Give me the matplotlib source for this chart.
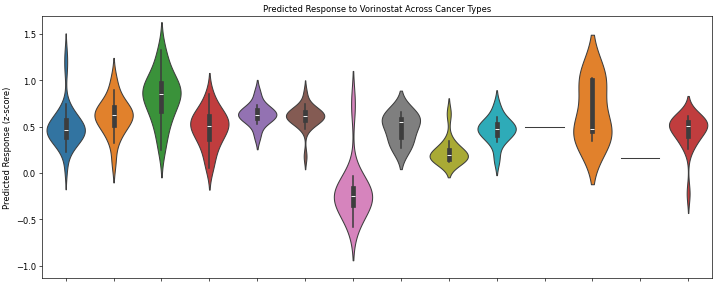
import numpy as np
import pandas as pd
import matplotlib
matplotlib.use("Agg")
import matplotlib.pyplot as plt
import seaborn as sns

# cancer type groups (labels hidden on the x axis in the original)
cancer_types = ["C01", "C02", "C03", "C04", "C05", "C06", "C07",
                "C08", "C09", "C10", "C11", "C12", "C13", "C14"]

# predicted z-score responses per group
c01 = [0.05, 0.23, 0.27, 0.30, 0.32, 0.35, 0.37, 0.38, 0.39, 0.40, 0.41,
       0.43, 0.44, 0.45, 0.45, 0.46, 0.46, 0.47, 0.48, 0.49, 0.50, 0.52,
       0.54, 0.56, 0.57, 0.58, 0.60, 0.62, 0.64, 0.68, 0.74, 1.12, 1.28]
c02 = [0.12, 0.32, 0.40, 0.45, 0.50, 0.52, 0.55, 0.58, 0.60, 0.62, 0.63,
       0.64, 0.66, 0.68, 0.70, 0.73, 0.76, 0.82, 0.90, 1.02]
c03 = [0.25, 0.38, 0.50, 0.58, 0.62, 0.68, 0.74, 0.78, 0.82, 0.84, 0.86,
       0.88, 0.90, 0.93, 0.96, 1.00, 1.04, 1.12, 1.22, 1.33]
c04 = [0.05, 0.15, 0.25, 0.32, 0.36, 0.40, 0.44, 0.48, 0.50, 0.52, 0.54,
       0.56, 0.58, 0.62, 0.64, 0.68, 0.74, 0.85]
c05 = [0.40, 0.53, 0.58, 0.60, 0.62, 0.63, 0.64, 0.66, 0.70, 0.73, 0.86]
c06 = [0.18, 0.48, 0.52, 0.54, 0.56, 0.57, 0.58, 0.59, 0.60, 0.61, 0.62,
       0.62, 0.63, 0.64, 0.65, 0.66, 0.67, 0.69, 0.72, 0.74, 0.86]
c07 = [-0.58, -0.45, -0.38, -0.35, -0.32, -0.28, -0.25, -0.24, -0.22,
       -0.18, -0.15, -0.10, -0.03, 0.74]
c08 = [0.27, 0.39, 0.55, 0.58, 0.66]
c09 = [0.12, 0.13, 0.14, 0.15, 0.17, 0.18, 0.19, 0.20, 0.22, 0.25, 0.28,
       0.35, 0.64]
c10 = [0.15, 0.33, 0.38, 0.42, 0.45, 0.47, 0.48, 0.50, 0.52, 0.55, 0.60, 0.72]
c11 = [0.50]
c12 = [0.35, 0.45, 0.47, 1.00, 1.02]
c13 = [0.16]
c14 = [-0.22, 0.26, 0.32, 0.35, 0.38, 0.42, 0.45, 0.48, 0.50, 0.51, 0.52,
       0.53, 0.54, 0.55, 0.56, 0.57, 0.58, 0.60, 0.62]

groups = [c01, c02, c03, c04, c05, c06, c07, c08, c09, c10, c11, c12, c13, c14]

df = pd.DataFrame({
    "cancer_type": np.repeat(cancer_types, [len(g) for g in groups]),
    "response": np.concatenate(groups),
})

fig = plt.figure(figsize=(12, 4.73), dpi=60)
ax = fig.add_axes([0.058, 0.018, 0.931, 0.922])

sns.violinplot(data=df, x="cancer_type", y="response", hue="cancer_type",
               palette="tab10", legend=False, density_norm="width",
               inner="box", ax=ax)

ax.set_ylim(-1.13, 1.69)
ax.set_xticks(range(len(cancer_types)))
ax.set_xticklabels([])
ax.set_xlabel("")
ax.set_ylabel("Predicted Response (z-score)")
ax.set_title("Predicted Response to Vorinostat Across Cancer Types", fontsize=10)

fig.savefig("out.png", dpi=60)
